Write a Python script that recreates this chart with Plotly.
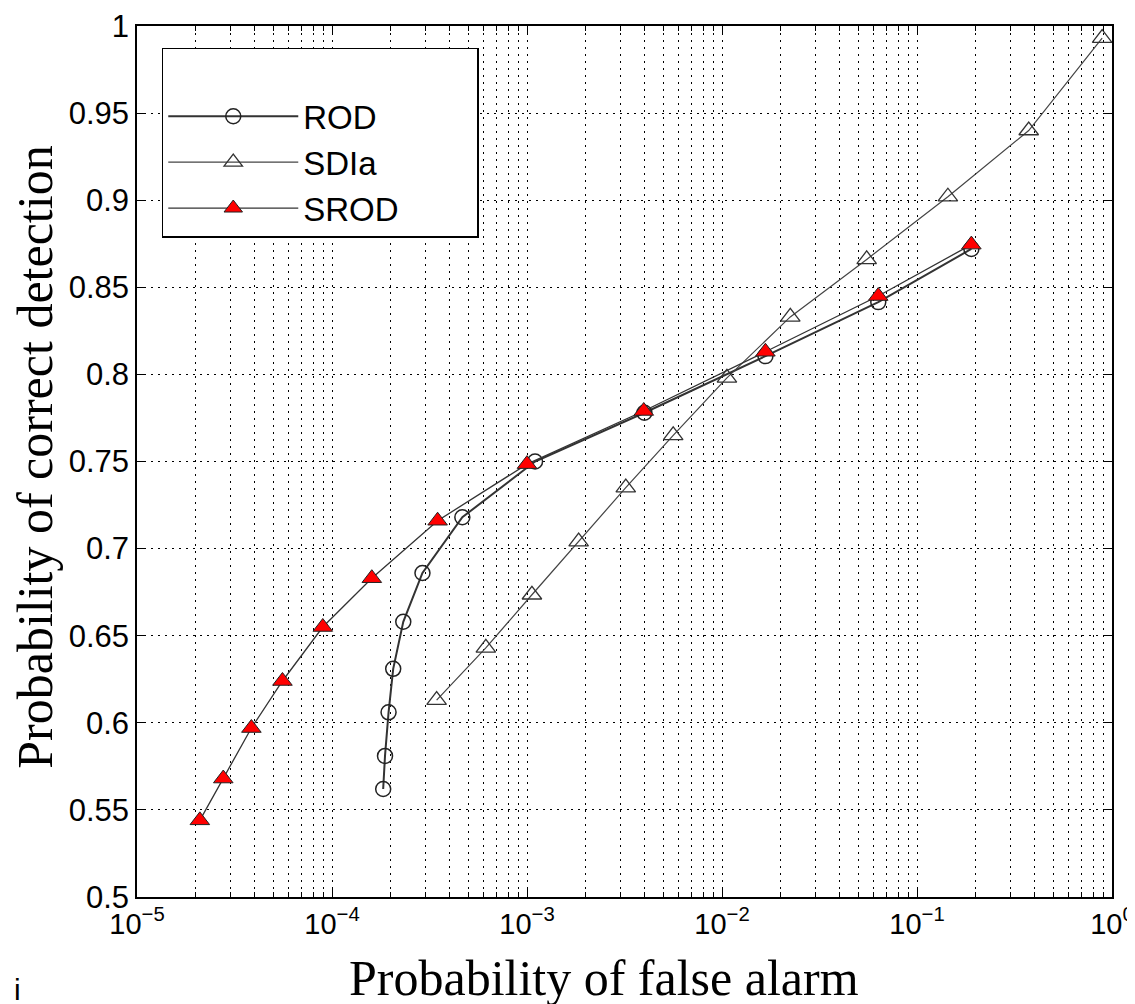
import plotly.graph_objects as go

# ---- data ----
rod_pfa = [1.83e-4, 1.87e-4, 1.95e-4, 2.06e-4, 2.32e-4, 2.91e-4, 4.66e-4, 1.10e-3, 4.0e-3, 1.67e-2, 6.33e-2, 1.90e-1]
rod_pd = [0.562, 0.581, 0.606, 0.631, 0.658, 0.686, 0.718, 0.750, 0.778, 0.8105, 0.8415, 0.872]

sdia_pfa = [3.44e-4, 6.15e-4, 1.06e-3, 1.84e-3, 3.21e-3, 5.62e-3, 1.06e-2, 2.24e-2, 5.52e-2, 1.44e-1, 3.74e-1, 8.9e-1]
sdia_pd = [0.613, 0.643, 0.6735, 0.704, 0.735, 0.765, 0.798, 0.833, 0.866, 0.902, 0.940, 0.993]

srod_pfa = [2.10e-5, 2.77e-5, 3.86e-5, 5.57e-5, 8.97e-5, 1.60e-4, 3.48e-4, 1.00e-3, 3.97e-3, 1.67e-2, 6.33e-2, 1.90e-1]
srod_pd = [0.544, 0.568, 0.597, 0.624, 0.655, 0.683, 0.716, 0.7485, 0.779, 0.813, 0.845, 0.8745]

series_names = ["ROD", "SDIa", "SROD"]
x_exponents = [-5, -4, -3, -2, -1, 0]
x_title = "Probability of false alarm"
y_title = "Probability of correct detection"
stray_text = "i"

SERIF = "Liberation Serif, Times New Roman, serif"
SANS = "Liberation Sans, Arial, sans-serif"
PAD = "\u00a0" * 8

fig = go.Figure()
fig.add_trace(go.Scatter(
    x=rod_pfa, y=rod_pd, name=series_names[0] + PAD, mode="lines+markers",
    line=dict(color="#333333", width=2),
    marker=dict(symbol="circle-open", size=15, color="#222222", line=dict(width=1.5)),
))
fig.add_trace(go.Scatter(
    x=sdia_pfa, y=sdia_pd, name=series_names[1] + PAD, mode="lines+markers",
    line=dict(color="#444444", width=1.2),
    marker=dict(symbol="triangle-up-open", size=17, color="#333333", line=dict(width=1.3)),
))
fig.add_trace(go.Scatter(
    x=srod_pfa, y=srod_pd, name=series_names[2] + PAD, mode="lines+markers",
    line=dict(color="#333333", width=1.3),
    marker=dict(symbol="triangle-up", size=17, color="#ff0000", line=dict(color="#222222", width=1)),
))

grid_dash = "2px,5px"
minor_vals = [m * 10 ** e for e in range(-5, 0) for m in range(2, 10)]
major_vals = [10 ** e for e in x_exponents]
major_text = ["10<sup>\u2212%d</sup>" % (-e) if e < 0 else "10<sup>%d</sup>" % e for e in x_exponents]

fig.update_xaxes(
    type="log", range=[-5, 0], tickvals=major_vals, ticktext=major_text,
    ticklabeloverflow="allow", automargin=False,
    showline=True, linecolor="black", linewidth=1.5, mirror="ticks",
    ticks="inside", ticklen=9, tickcolor="black",
    showgrid=True, gridcolor="black", gridwidth=1, griddash=grid_dash,
    minor=dict(tickvals=minor_vals, ticks="inside", ticklen=5, tickcolor="black",
               showgrid=True, gridcolor="black", gridwidth=1, griddash=grid_dash),
    tickfont=dict(family=SANS, size=29, color="black"),
    zeroline=False,
)
fig.update_yaxes(
    range=[0.5, 1], dtick=0.05,
    ticklabeloverflow="allow", automargin=False,
    showline=True, linecolor="black", linewidth=1.5, mirror="ticks",
    ticks="inside", ticklen=9, tickcolor="black",
    showgrid=True, gridcolor="black", gridwidth=1, griddash=grid_dash,
    tickfont=dict(family=SANS, size=31, color="black"),
    zeroline=False,
)

fig.update_layout(
    width=1135, height=1004,
    margin=dict(l=129, r=31, t=18, b=115, autoexpand=False),
    paper_bgcolor="white", plot_bgcolor="white",
    showlegend=True,
    legend=dict(
        x=0.0254, y=0.975, xanchor="left", yanchor="top",
        bgcolor="white", bordercolor="black", borderwidth=1.5,
        font=dict(family=SANS, size=33, color="black"),
        itemwidth=130, tracegroupgap=0,
        title=dict(text=" ", font=dict(size=30)),
    ),
    annotations=[
        dict(text=x_title, xref="paper", yref="paper", x=0.4787, y=-0.059,
             xanchor="center", yanchor="top", showarrow=False,
             font=dict(family=SERIF, size=50, color="black")),
        dict(text=y_title, xref="paper", yref="paper", x=-0.104, y=0.505,
             xanchor="center", yanchor="middle", textangle=-90, showarrow=False,
             font=dict(family=SERIF, size=50, color="black")),
        dict(text=stray_text, xref="paper", yref="paper", x=-0.128, y=-0.1274,
             xanchor="left", yanchor="bottom", showarrow=False,
             font=dict(family=SANS, size=30, color="black")),
    ],
)

fig.write_html("out.html")
